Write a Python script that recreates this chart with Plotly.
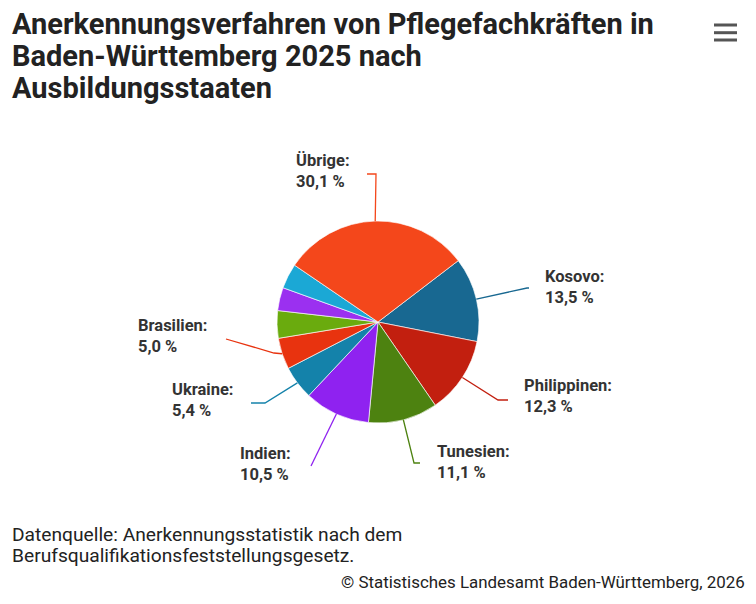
import math
import plotly.graph_objects as go

# Daten
LAENDER = ["Kosovo", "Philippinen", "Tunesien", "Indien", "Ukraine", "Brasilien",
           "Land A", "Land B", "Land C", "Übrige"]
ANTEILE = [13.5, 12.3, 11.1, 10.5, 5.4, 5.0, 4.4, 3.7, 4.0, 30.1]
FARBEN = ["#186891", "#c21f0f", "#4d8210", "#8f22f0", "#1482aa", "#e8330f",
          "#6aab0e", "#9b30f0", "#1ba8d5", "#f4471b"]
BESCHRIFTET = ["Kosovo", "Philippinen", "Tunesien", "Indien", "Ukraine", "Brasilien", "Übrige"]
TITEL_ZEILEN = ["Anerkennungsverfahren von Pflegefachkräften in",
                "Baden-Württemberg 2025 nach",
                "Ausbildungsstaaten"]
QUELLE_ZEILEN = ["Datenquelle: Anerkennungsstatistik nach dem",
                 "Berufsqualifikationsfeststellungsgesetz."]
COPYRIGHT = "© Statistisches Landesamt Baden-Württemberg, 2026"

# Seite hat 8px Body-Rand -> Figur etwas kleiner, Koordinaten in Fenster-Pixeln
OFF = 8
W, H = 756 - 2 * OFF, 604 - 2 * OFF
CX, CY, R = 378, 322, 101
ROTATION = 52.6

# Label-Layout (Fenster-Pixel): Textanker, Ausrichtung, Verbinder
LABEL_LAYOUT = {
    "Kosovo": dict(x=545, y=287, anchor="left", end=(529, 288), bend=(527, 288)),
    "Philippinen": dict(x=524, y=396, anchor="left", end=(508, 400), bend=(498, 400)),
    "Tunesien": dict(x=437, y=462, anchor="left", end=(420, 463), bend=(414, 463)),
    "Indien": dict(x=291, y=464, anchor="right", end=(311, 466), bend=(311, 466)),
    "Ukraine": dict(x=233, y=400, anchor="right", end=(251, 403), bend=(265, 403)),
    "Brasilien": dict(x=208, y=336, anchor="right", end=(226, 339), bend=(274, 353)),
    "Übrige": dict(x=296, y=171, anchor="left", end=(367, 174), bend=(376, 174)),
}


def px(x):
    return (x - OFF) / W


def py(y):
    return 1 - (y - OFF) / H


fig = go.Figure(go.Pie(
    labels=LAENDER,
    values=ANTEILE,
    marker=dict(colors=FARBEN, line=dict(color="rgba(255,255,255,0.8)", width=0.8)),
    sort=False,
    direction="clockwise",
    rotation=ROTATION,
    textinfo="none",
    hoverinfo="label+percent",
    showlegend=False,
    domain=dict(x=[px(CX - R), px(CX + R)], y=[py(CY + R), py(CY - R)]),
))

annotations = []
shapes = []
total = sum(ANTEILE)
cum = 0.0
for land, wert, farbe in zip(LAENDER, ANTEILE, FARBEN):
    mid = ROTATION + (cum + wert / 2) / total * 360
    cum += wert
    if land not in BESCHRIFTET:
        continue
    lay = LABEL_LAYOUT[land]
    rx = CX + R * math.sin(math.radians(mid))
    ry = CY - R * math.cos(math.radians(mid))
    bx, by = lay["bend"]
    ex, ey = lay["end"]
    shapes.append(dict(
        type="path", xref="paper", yref="paper",
        path=f"M {px(rx)} {py(ry)} L {px(bx)} {py(by)} L {px(ex)} {py(ey)}",
        line=dict(color=farbe, width=1.3),
    ))
    text = f"<b>{land}:<br>{wert:.1f} %</b>".replace(".", ",")
    shift = -2 if lay["anchor"] == "left" else 2
    annotations.append(dict(
        text=text, x=px(lay["x"] + shift), y=py(lay["y"]), xref="paper", yref="paper",
        xanchor=lay["anchor"], yanchor="middle", align="left", showarrow=False,
        font=dict(family="Roboto", size=16.5, color="#333333"),
    ))

# Titel
for i, zeile in enumerate(TITEL_ZEILEN):
    annotations.append(dict(
        text=f"<b>{zeile}</b>", x=px(10), y=py(24 + 32 * i), xref="paper", yref="paper",
        xanchor="left", yanchor="middle", showarrow=False,
        font=dict(family="Roboto", size=29, color="#222222"),
    ))
# Quelle
for i, zeile in enumerate(QUELLE_ZEILEN):
    annotations.append(dict(
        text=zeile, x=px(10), y=py(534 + 21 * i), xref="paper", yref="paper",
        xanchor="left", yanchor="middle", showarrow=False,
        font=dict(family="Roboto", size=19.2, color="#222222"),
    ))
annotations.append(dict(
    text=COPYRIGHT, x=px(747), y=py(582), xref="paper", yref="paper",
    xanchor="right", yanchor="middle", showarrow=False,
    font=dict(family="Roboto", size=16.9, color="#222222"),
))

# Menü-Symbol
for yy in (25, 32.7, 40):
    shapes.append(dict(type="line", xref="paper", yref="paper",
                       x0=px(714), x1=px(737), y0=py(yy), y1=py(yy),
                       line=dict(color="#555555", width=3)))

fig.update_layout(
    width=W, height=H,
    margin=dict(l=0, r=0, t=0, b=0),
    paper_bgcolor="white",
    annotations=annotations,
    shapes=shapes,
)

fig.write_html("out.html")
